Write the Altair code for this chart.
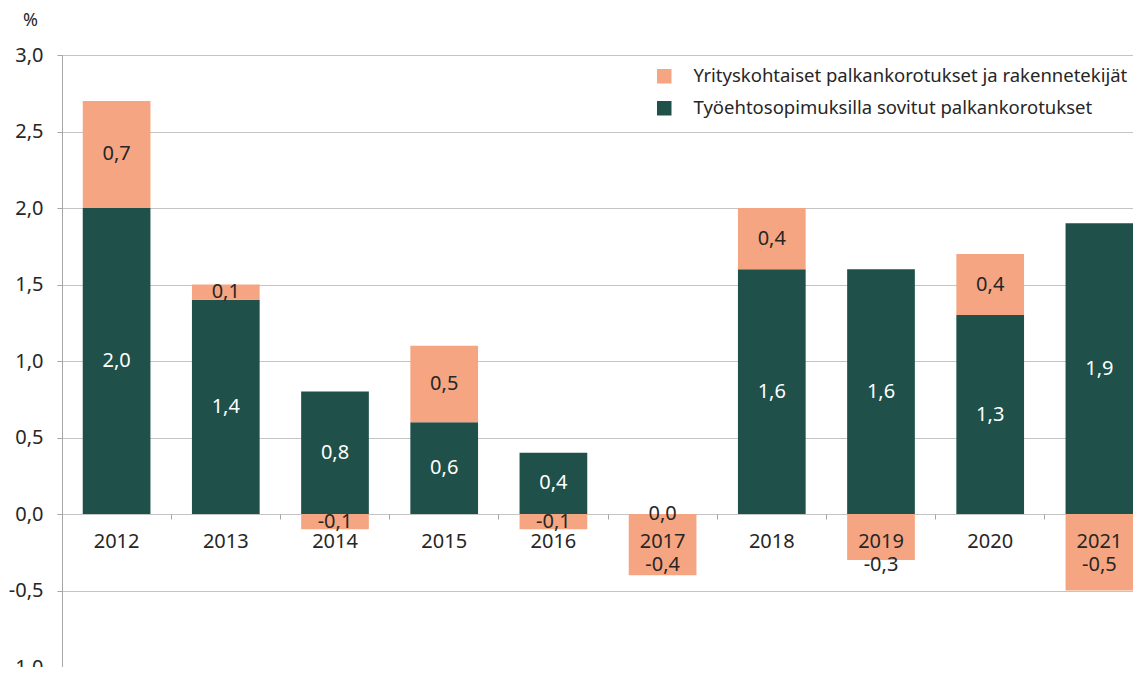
import altair as alt
import pandas as pd

years = ["2012", "2013", "2014", "2015", "2016", "2017", "2018", "2019", "2020", "2021"]
tes_values = [2.0, 1.4, 0.8, 0.6, 0.4, 0.0, 1.6, 1.6, 1.3, 1.9]
yk_values = [0.7, 0.1, -0.1, 0.5, -0.1, -0.4, 0.4, -0.3, 0.4, -0.5]
series_names = [
    "Yrityskohtaiset palkankorotukset ja rakennetekijät",
    "Työehtosopimuksilla sovitut palkankorotukset",
]
series_colors = ["#f6a582", "#1f5049"]
y_ticks = [-1.0, -0.5, 0.0, 0.5, 1.0, 1.5, 2.0, 2.5, 3.0]

FONT = "Noto Sans"
DARK = "#262626"
GRID = "#c4c4c4"
NUM_SIZE = 20


def fmt(v):
    return f"{v:.1f}".replace(".", ",")


rows = []
for y, g, s in zip(years, tes_values, yk_values):
    rows.append(dict(year=y, series=series_names[1], value=g, ord=0,
                     label=fmt(g), mid=g / 2, kind="g"))
    if s >= 0:
        mid = g + s / 2
        kind = "s"
    else:
        mid = s / 2
        kind = "s" if s > -0.2 else "sdeep"
    rows.append(dict(year=y, series=series_names[0], value=s, ord=1,
                     label=fmt(s), mid=mid, kind=kind))
df = pd.DataFrame(rows)
yr = pd.DataFrame({"year": years, "zero": [0.0] * len(years)})

x_scale = alt.Scale(domain=years, paddingInner=0, paddingOuter=0, range=[0, 1092])
y_scale = alt.Scale(domain=[-1, 3], nice=False, zero=False)

x_axis = alt.Axis(
    title=None, labels=False, domain=False, ticks=True, tickSize=5,
    tickColor="#a6a6a6", bandPosition=0, offset=-153, grid=False, zindex=1,
)
y_axis = alt.Axis(
    values=y_ticks,
    labelExpr="replace(replace(format(datum.value, '.1f'), '.', ','), '\u2212', '-')",
    title="%", titleAngle=0, titleX=-32, titleY=-35, titleAlign="center",
    titleBaseline="middle", titleFontWeight="normal", titleFontSize=18,
    titleColor=DARK, titleFont=FONT,
    tickSize=5, tickColor="#a6a6a6", labelPadding=14, labelFontSize=NUM_SIZE,
    labelColor=DARK, labelFont=FONT, domainColor="#a6a6a6",
    gridColor=GRID, gridWidth=1,
)

base = alt.Chart(df)

bars = base.mark_bar(width=alt.RelativeBandSize(0.62)).encode(
    x=alt.X("year:N", scale=x_scale, axis=x_axis, sort=years),
    y=alt.Y("value:Q", stack="zero", scale=y_scale, axis=y_axis),
    color=alt.Color(
        "series:N",
        scale=alt.Scale(domain=series_names, range=series_colors),
        legend=alt.Legend(
            title=None, orient="none", legendX=593, legendY=12,
            symbolType="square", symbolSize=210, symbolStrokeWidth=0,
            labelFontSize=18.5, labelFont=FONT, labelColor=DARK,
            labelLimit=600, rowPadding=13, labelOffset=20, padding=0,
        ),
    ),
    order=alt.Order("ord:Q", sort="ascending"),
)

green_labels = base.transform_filter(alt.datum.kind == "g").mark_text(
    font=FONT, fontSize=NUM_SIZE, baseline="middle", align="center"
).encode(
    x=alt.X("year:N", scale=x_scale, sort=years),
    y=alt.Y("mid:Q", scale=y_scale),
    text="label:N",
    color=alt.condition(alt.datum.value > 0, alt.value("#ffffff"), alt.value(DARK)),
)

salmon_labels = base.transform_filter(alt.datum.kind == "s").mark_text(
    font=FONT, fontSize=NUM_SIZE, baseline="middle", align="center", color=DARK
).encode(
    x=alt.X("year:N", scale=x_scale, sort=years),
    y=alt.Y("mid:Q", scale=y_scale),
    text="label:N",
)

deep_labels = base.transform_filter(alt.datum.kind == "sdeep").transform_calculate(
    zero="0"
).mark_text(
    font=FONT, fontSize=NUM_SIZE, baseline="middle", align="center", color=DARK, dy=51
).encode(
    x=alt.X("year:N", scale=x_scale, sort=years),
    y=alt.Y("zero:Q", scale=y_scale),
    text="label:N",
)

year_labels = alt.Chart(yr).mark_text(
    font=FONT, fontSize=NUM_SIZE, baseline="middle", align="center", color=DARK, dy=28
).encode(
    x=alt.X("year:N", scale=x_scale, sort=years),
    y=alt.Y("zero:Q", scale=y_scale),
    text="year:N",
)

chart = alt.layer(bars, green_labels, salmon_labels, year_labels, deep_labels).properties(
    width=1071, height=612,
    autosize=alt.AutoSizeParams(type="none"),
    padding={"left": 54, "top": 47, "right": 0, "bottom": 0},
).configure_view(stroke=None).configure(font=FONT)

chart.save("out.html", embed_options={"renderer": "svg", "actions": False})
